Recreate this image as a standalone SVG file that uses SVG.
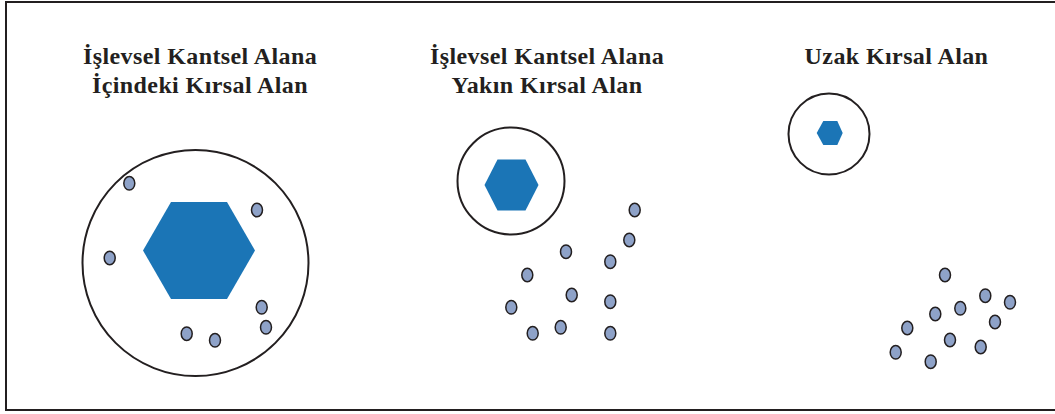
<svg xmlns="http://www.w3.org/2000/svg" width="1055" height="414" viewBox="0 0 1055 414">
<style>
.t{font-family:"Liberation Serif","Times New Roman",serif;font-weight:bold;font-size:24px;letter-spacing:0.4px;fill:#231f20;text-anchor:middle}
.c{fill:none;stroke:#231f20;stroke-width:2}
.h{fill:#1b75b6}
.d{fill:#8ea2c8;stroke:#231f20;stroke-width:1.5}
</style>
<defs>
<ellipse id="dot" class="d" cx="0" cy="0" rx="5.5" ry="6.8"/>
</defs>
<rect x="6" y="2" width="1060" height="408" fill="#fff" stroke="#231f20" stroke-width="2"/>
<g id="node-inner">
<text class="t" x="200" y="64">İşlevsel Kantsel Alana</text>
<text class="t" x="200" y="93">İçindeki Kırsal Alan</text>
<circle class="c" cx="195.5" cy="263" r="113"/>
<polygon class="h" points="143,250.5 171,202 227,202 255,250.5 227,299 171,299"/>
<use href="#dot" x="129.3" y="183.3"/>
<use href="#dot" x="257" y="210"/>
<use href="#dot" x="109.7" y="258"/>
<use href="#dot" x="261.7" y="307.3"/>
<use href="#dot" x="266" y="327.3"/>
<use href="#dot" x="186.7" y="333.7"/>
<use href="#dot" x="215" y="340.3"/>
</g>
<g id="node-near">
<text class="t" x="547" y="64">İşlevsel Kantsel Alana</text>
<text class="t" x="547" y="93">Yakın Kırsal Alan</text>
<circle class="c" cx="511" cy="181" r="53.5"/>
<polygon class="h" points="484.5,185 497.5,159.5 525.5,159.5 538.5,185 525.5,210.5 497.5,210.5"/>
<use href="#dot" x="634.7" y="210"/>
<use href="#dot" x="629.3" y="240"/>
<use href="#dot" x="566" y="251.7"/>
<use href="#dot" x="610.3" y="261.7"/>
<use href="#dot" x="527.3" y="275"/>
<use href="#dot" x="571.7" y="295"/>
<use href="#dot" x="610.3" y="301.7"/>
<use href="#dot" x="511.3" y="307.3"/>
<use href="#dot" x="560.7" y="327.3"/>
<use href="#dot" x="532.7" y="333.3"/>
<use href="#dot" x="610.3" y="333.3"/>
</g>
<g id="node-far">
<text class="t" x="896.5" y="64">Uzak Kırsal Alan</text>
<circle class="c" cx="829" cy="134" r="40.5"/>
<polygon class="h" points="816.7,133 823.3,121 837.3,121 842.7,133 837.3,145 823.3,145"/>
<use href="#dot" x="945" y="275"/>
<use href="#dot" x="985.3" y="295.7"/>
<use href="#dot" x="1010" y="302.3"/>
<use href="#dot" x="960.3" y="308.3"/>
<use href="#dot" x="935.3" y="314"/>
<use href="#dot" x="995" y="322"/>
<use href="#dot" x="907.3" y="328"/>
<use href="#dot" x="950" y="340"/>
<use href="#dot" x="980.7" y="347"/>
<use href="#dot" x="895.7" y="352.3"/>
<use href="#dot" x="930.7" y="361.7"/>
</g>
<g id="connectors"/>
</svg>
